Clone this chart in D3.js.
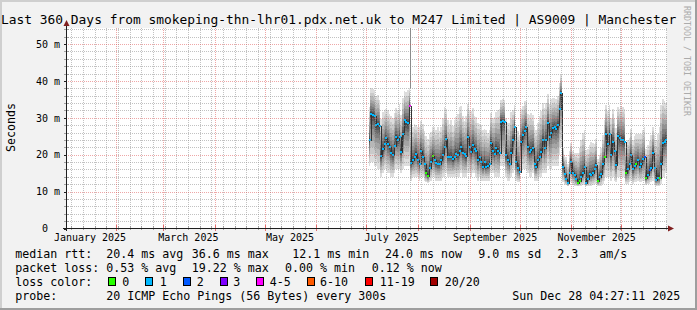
<!DOCTYPE html>
<html><head><meta charset="utf-8">
<script src="https://cdn.jsdelivr.net/npm/d3@7"></script>
<style>
html,body{margin:0;padding:0;background:#f2f2f2;}
svg{display:block;}
text{font-family:"DejaVu Sans Mono",monospace;white-space:pre;}
</style></head><body>
<svg id="c" width="697" height="310"></svg>
<script>
// ---------------- DATA ----------------
const chartTitle = "Last 360 Days from smokeping-thn-lhr01.pdx.net.uk to M247 Limited | AS9009 | Manchester";
const yAxisTitle = "Seconds";
const watermark = "RRDTOOL / TOBI OETIKER";
const rangeStart = "2025-01-02T04:27:11Z";
const rangeEnd = "2025-12-28T04:27:11Z";
const dataStart = "2025-07-03"; // one value per day
// median RTT (ms)
const median = [
 24.0,31.0,30.8,30.4,28.0,28.2,27.7,19.6,21.5,23.0,
 24.4,23.0,22.1,20.5,19.9,22.3,24.7,24.0,24.8,20.8,
 25.5,29.3,28.9,28.5,33.2,17.8,18.6,19.4,20.1,18.5,
 17.4,21.1,19.4,17.5,15.1,14.2,16.5,18.1,19.6,18.5,
 17.8,17.4,17.4,18.5,19.9,22.0,24.3,19.4,19.4,19.4,
 18.7,19.5,20.3,19.9,21.0,22.1,20.5,20.1,19.6,24.8,
 22.0,20.8,22.6,21.5,21.1,18.5,19.4,18.0,16.7,18.1,
 16.7,17.0,17.6,23.2,21.0,20.3,21.7,21.0,20.5,28.9,
 29.0,28.9,19.9,18.5,17.6,20.5,24.0,27.6,18.1,16.5,
 15.4,23.5,25.3,26.5,27.6,22.1,20.8,21.2,21.7,17.6,
 16.7,18.5,19.5,20.8,23.9,21.7,24.0,28.5,24.8,26.0,
 27.3,27.5,27.1,28.0,32.5,36.6,16.7,14.9,13.5,12.4,
 15.0,18.1,15.1,14.5,13.5,12.4,12.9,14.0,15.0,16.7,
 12.2,13.5,14.7,14.5,15.1,16.0,17.2,12.9,14.0,14.7,
 17.4,19.4,25.6,22.9,25.6,19.9,23.5,21.0,17.2,25.0,
 24.4,24.1,24.0,23.5,15.1,16.0,17.6,19.9,16.0,17.0,
 17.6,18.5,16.7,17.5,18.7,19.4,13.6,14.5,15.8,16.3,
 20.5,16.3,13.1,13.6,13.6,17.6,23.2,23.5,24.0
];
// packet loss (%)
const lossPct = [
 0.4,0.5,0.6,0.4,0.5,0.3,0.6,0.5,0.4,0.5,
 0.5,0.4,0.6,0.5,0.3,0.5,0.4,0.6,0.5,0.4,
 0.5,0.6,0.5,0.7,19.22,0.5,0.4,0.5,0.6,0.4,
 0.5,0.3,0.4,0.5,0,0,0.4,0.5,0,0.3,
 0.4,0.5,0.5,0.4,0.6,0.5,0.4,0.5,0.3,0.5,
 0.4,0.5,0.6,0.5,0.4,0.5,0.5,0.4,0.6,0.5,
 0.5,0.4,0.5,0.6,0.4,0.5,0.3,0.5,0.4,0.5,
 0.6,0.5,0.4,0.5,0.5,0.4,0.6,0.5,0.4,0.5,
 0.5,0.6,0.4,0.5,0.3,0.5,0.6,0.4,0.5,0.5,
 0.4,0.5,0.6,0.5,0.4,0.5,0.5,0.4,0.6,0.5,
 0.5,0.4,0.5,0.6,0.5,0.4,0.5,0.5,0.6,0.4,
 0.5,0.6,0.5,0.4,0.7,0.8,0.5,0.4,0.5,0.3,
 0.4,0.5,0.3,0.4,0.3,0,0,0.3,0.4,0.5,
 0.4,0.3,0.5,0.4,0.5,0.4,0.5,0,0.3,0.4,
 0.5,0,0.6,0.5,0.6,0.5,0.4,0.5,0.4,0.6,
 0.5,0.4,0.5,0.6,0,0.3,0.4,0.5,0.4,0.3,
 0,0.4,0.5,0.4,0.5,7.0,0,0.4,7.5,0.5,
 0.4,0.5,0.3,0.4,0,0.5,0.6,0.5,0.12
];
// smoke: upper extent above median (ms)
const smokeUp = [
 9,7,7,7,8,8,7,10,10,9,
 8,9,9,10,10,9,8,8,9,10,
 10,8,8,9,5,10,9,9,8,9,
 10,8,9,9,10,10,9,8,8,9,
 9,10,9,9,10,11,8,10,9,10,
 9,10,10,11,12,11,10,9,11,9,
 10,11,10,9,9,10,9,10,10,9,
 10,9,9,8,9,10,10,11,12,6,
 6,6,10,10,11,11,8,6,9,10,
 10,9,8,8,7,9,10,10,9,10,
 10,10,11,11,10,11,10,8,9,9,
 8,8,8,8,7,5,5,5,6,5,
 6,5,6,6,7,8,9,10,11,10,
 9,8,8,9,8,7,7,6,6,7,
 8,10,8,9,8,10,9,9,10,8,
 8,9,9,9,8,8,7,7,8,8,
 8,7,9,8,8,8,8,8,8,9,
 7,9,11,12,14,16,12,11,10
];
// smoke: lowest ping (ms)
const smokeLow = [
 17,18,18,17,17,16,16,14,15,16,
 16,15,15,14,14,15,16,16,16,15,
 16,17,17,17,17,13,14,14,14,14,
 13,14,14,13,12.5,12.3,12.5,13,14,14,
 13,13,13,13,14,14,15,14,14,14,
 14,14,14,14,14,15,14,14,14,15,
 15,14,15,15,14,13,14,13,13,13,
 13,13,13,15,15,14,14,14,14,17,
 17,17,14,13,13,14,15,16,13,12.5,
 12.5,15,16,16,16,15,14,14,15,13,
 13,13,14,14,15,15,15,17,16,16,
 17,17,17,17,20,22,12.5,12,11.8,11.5,
 11.8,12.5,11.8,11.6,11.5,11.5,11.5,11.6,11.8,12,
 11.5,11.5,11.6,11.6,11.8,12,12,11.5,11.5,11.6,
 12,13,14,14,14,13,14,13,12.5,14,
 14,14,14,14,12,12,12.5,13,12,12.5,
 12.5,13,12.5,12.5,13,13,11.8,12,12,12.5,
 13,12,11.5,11.5,11.5,12,14,14,15
];
const spikeDates = ["2025-07-27"];
const spikeMax = [54.4];
const yTicks = [0, 10, 20, 30, 40, 50];
const xLabelDates = ["2025-01-16","2025-03-16","2025-05-16","2025-07-16","2025-09-16","2025-11-16"];
const xLabelTexts = ["January 2025","March 2025","May 2025","July 2025","September 2025","November 2025"];
const lossLevels = [0, 1, 2, 3, 5, 10, 19, 20]; // lost pings out of 20
const lossLabels = ["0","1","2","3","4-5","6-10","11-19","20/20"];
const lossColors = ["#26ff00","#00b8ff","#0059ff","#7e00ff","#ff00ff","#ff5a00","#ff0000","#a10000"];
const legendRtt = ["median rtt:","20.4 ms avg","36.6 ms max","12.1 ms min","24.0 ms now","9.0 ms sd","2.3","am/s"];
const legendLoss = ["packet loss:","0.53 % avg","19.22 % max","0.00 % min","0.12 % now"];
const legendLossTitle = "loss color:";
const legendProbe = ["probe:","20 ICMP Echo Pings (56 Bytes) every 300s","Sun Dec 28 04:27:11 2025"];

// ---------------- LAYOUT ----------------
const W = 697, H = 310;
const L = 66.5, R = 666.5, T = 28.5, B = 228.5;
const svg = d3.select("#c");
const x = d3.scaleUtc().domain([new Date(rangeStart), new Date(rangeEnd)]).range([L, R]);
const y = d3.scaleLinear().domain([0, 54.2]).range([B, T]);

// dotted patterns for grid
const defs = svg.append("defs");
function dotPattern(id, col, horiz) {
  const p = defs.append("pattern").attr("id", id).attr("patternUnits", "userSpaceOnUse")
    .attr("x", 0).attr("y", 0).attr("width", horiz ? 2 : 1).attr("height", horiz ? 1 : 2);
  p.append("rect").attr("x", 0).attr("y", 0).attr("width", 1).attr("height", 1).attr("fill", col);
}
const minorCol = "rgba(143,143,143,0.55)", majorCol = "rgba(222,79,79,0.5)";
dotPattern("hMinor", minorCol, true);
dotPattern("vMinor", minorCol, false);
dotPattern("hMajor", majorCol, true);
dotPattern("vMajor", majorCol, false);

// frame
svg.append("rect").attr("width", W).attr("height", H).attr("fill", "#f2f2f2");
svg.append("rect").attr("x",0).attr("y",0).attr("width",W).attr("height",2).attr("fill","#cfcfcf");
svg.append("rect").attr("x",0).attr("y",0).attr("width",2).attr("height",H).attr("fill","#cfcfcf");
svg.append("rect").attr("x",W-2).attr("y",0).attr("width",2).attr("height",H).attr("fill","#9e9e9e");
svg.append("rect").attr("x",0).attr("y",H-2).attr("width",W).attr("height",2).attr("fill","#9e9e9e");
svg.append("rect").attr("x", 67).attr("y", 28).attr("width", 600).attr("height", 200).attr("fill", "#fff");

// data
const t0 = new Date(dataStart + "T00:00:00Z");
const days = median.map((m, i) => ({
  date: d3.utcDay.offset(t0, i), m, loss: lossPct[i], up: smokeUp[i], lo: smokeLow[i]
}));
const halfDay = 12 * 3600 * 1000;
const gPlot = svg.append("g").attr("shape-rendering", "crispEdges");
const nBands = 10, pw = 1.7;
for (let k = 0; k < nBands; k++) {
  const g = 221 - 19 * k;
  const f = Math.pow(1 - k / nBands, pw);
  gPlot.append("g").selectAll("rect").data(days).join("rect")
    .attr("x", d => Math.round(x(new Date(+d.date - halfDay))))
    .attr("width", d => Math.max(1, Math.round(x(new Date(+d.date + halfDay))) - Math.round(x(new Date(+d.date - halfDay)))))
    .attr("y", d => y(d.m + d.up * f))
    .attr("height", d => Math.max(1, y(d.m - (d.m - d.lo) * f) - y(d.m + d.up * f)))
    .attr("fill", d3.rgb(g, g, g));
}
// spikes
gPlot.append("g").selectAll("line").data(spikeDates.map((s, i) => ({date: new Date(s + "T00:00:00Z"), max: spikeMax[i], idx: d3.utcDay.count(t0, new Date(s + "T00:00:00Z"))})))
  .join("line")
  .attr("x1", d => Math.round(x(d.date)) + 0.5).attr("x2", d => Math.round(x(d.date)) + 0.5)
  .attr("y1", d => y(d.max)).attr("y2", d => y(median[d.idx] + smokeUp[d.idx]))
  .attr("stroke", "#8a8a8a").attr("stroke-width", 1);
// median connector
gPlot.append("path").datum(days)
  .attr("d", d3.line().x(d => Math.round(x(d.date)) + 0.5).y(d => Math.round(y(d.m)) + 0.5).curve(d3.curveStep))
  .attr("fill", "none").attr("stroke", "#333").attr("stroke-width", 1);
function lossIdx(p) { const pings = p / 100 * 20; return lossLevels.findIndex(l => pings <= l); }
gPlot.append("g").selectAll("rect").data(days).join("rect")
  .attr("x", d => Math.round(x(d.date)) - 1).attr("y", d => Math.round(y(d.m)) - 1)
  .attr("width", 2).attr("height", 2)
  .attr("fill", d => lossColors[lossIdx(d.loss)]);

// grid (on top), drawn as dotted 1px rects
const gGrid = svg.append("g").attr("shape-rendering", "crispEdges");
const minorY = d3.range(2, 54.2, 2).filter(v => v % 10 !== 0);
const majorY = yTicks.filter(v => v > 0);
const months = d3.utcMonth.range(new Date(rangeStart), new Date(rangeEnd));
const weeks = d3.utcSunday.range(new Date(rangeStart), new Date(rangeEnd)).filter(w => !months.some(m => +m === +w));
function hLines(vals, pat) {
  gGrid.append("g").selectAll("rect").data(vals).join("rect")
    .attr("x", 67).attr("width", 600).attr("y", d => Math.round(y(d))).attr("height", 1)
    .attr("fill", `url(#${pat})`);
}
function vLines(vals, pat) {
  gGrid.append("g").selectAll("rect").data(vals).join("rect")
    .attr("x", d => Math.round(x(d))).attr("width", 1).attr("y", 28).attr("height", 200)
    .attr("fill", `url(#${pat})`);
}
hLines(minorY, "hMinor");
vLines(weeks, "vMinor");
hLines(majorY, "hMajor");
vLines(months, "vMajor");
// ticks
const gTick = svg.append("g").attr("shape-rendering", "crispEdges");
gTick.append("g").selectAll("line").data(weeks).join("line")
  .attr("x1", d => Math.round(x(d)) + 0.5).attr("x2", d => Math.round(x(d)) + 0.5).attr("y1", 226).attr("y2", 230)
  .attr("stroke", "rgba(143,143,143,0.8)");
gTick.append("g").selectAll("line").data(months).join("line")
  .attr("x1", d => Math.round(x(d)) + 0.5).attr("x2", d => Math.round(x(d)) + 0.5).attr("y1", 225).attr("y2", 231)
  .attr("stroke", "rgba(222,79,79,0.8)");
gTick.append("g").selectAll("line").data(minorY).join("line")
  .attr("x1", 64).attr("x2", 69).attr("y1", d => Math.round(y(d)) + 0.5).attr("y2", d => Math.round(y(d)) + 0.5)
  .attr("stroke", "rgba(143,143,143,0.8)");

// axes
const yAxis = d3.axisLeft(y).tickValues(yTicks).tickSizeInner(3).tickSizeOuter(0).tickPadding(3.5)
  .tickFormat(v => v === 0 ? "0  " : v + " m");
const gy = svg.append("g").attr("transform", `translate(${L},0)`).call(yAxis);
gy.select(".domain").remove();
gy.selectAll(".tick line").attr("stroke", "#1f1f1f").attr("shape-rendering", "crispEdges");
gy.selectAll(".tick text").attr("font-family", "DejaVu Sans Mono").attr("font-size", 10).attr("fill", "#000").style("white-space", "pre");

const xAxis = d3.axisBottom(x).tickValues(xLabelDates.map(s => new Date(s + "T00:00:00Z")))
  .tickSize(0).tickPadding(5.4).tickFormat((d, i) => xLabelTexts[i]);
const gx = svg.append("g").attr("transform", `translate(0,${B})`).call(xAxis);
gx.select(".domain").remove();
gx.selectAll(".tick text").attr("font-family", "DejaVu Sans Mono").attr("font-size", 10).attr("fill", "#000");

const axCol = "#1f1f1f", arCol = "#801f1f";
svg.append("line").attr("x1", L).attr("x2", L).attr("y1", B + 2).attr("y2", T - 4).attr("stroke", axCol).attr("shape-rendering","crispEdges");
svg.append("line").attr("x1", L - 4).attr("x2", R + 3).attr("y1", B).attr("y2", B).attr("stroke", axCol).attr("shape-rendering","crispEdges");
svg.append("path").attr("d", `M${L-3},${T-2.5}L${L+3},${T-2.5}L${L},${T-8.5}Z`).attr("fill", arCol);
svg.append("path").attr("d", `M${R+1.5},${B-3}L${R+1.5},${B+3}L${R+7.5},${B}Z`).attr("fill", arCol);

// texts
svg.append("text").attr("x", 1).attr("y", 24).attr("font-size", 12.9).text(chartTitle);
svg.append("text").attr("transform", "translate(15,127.5) rotate(-90)").attr("text-anchor", "middle")
  .attr("font-size", 11.63).text(yAxisTitle);
svg.append("text").attr("transform", "translate(683.5,61) rotate(90)").attr("text-anchor", "middle")
  .attr("font-size", 8.3).attr("fill", "#ababab").text(watermark);

const fs = 11.63;
const row1X = [15.3, 106.3, 191.7, 292.3, 385, 478.3, 557.3, 599.3];
const row2X = [15.3, 106.3, 191.7, 285, 371.7];
const row4X = [15.3, 106.3, 512.3];
const boxX = [108.5, 145.5, 183.5, 220.5, 256.5, 307.5, 365.5, 430.5];
const boxLabelX = [122.3, 159.7, 196.7, 233.3, 269.7, 320, 379.7, 444.7];
const leg = svg.append("g").attr("font-size", fs).attr("fill", "#000");
leg.selectAll(".r1").data(legendRtt).join("text").attr("x", (d, i) => row1X[i]).attr("y", 257.8).text(d => d);
leg.selectAll(".r2").data(legendLoss).join("text").attr("x", (d, i) => row2X[i]).attr("y", 271.8).text(d => d);
leg.append("text").attr("x", 15.3).attr("y", 285.8).text(legendLossTitle);
leg.selectAll(".bx").data(lossColors).join("rect").attr("x", (d, i) => boxX[i]).attr("y", 277.5)
  .attr("width", 7).attr("height", 8).attr("fill", d => d).attr("stroke", "#000").attr("shape-rendering","crispEdges");
leg.selectAll(".bl").data(lossLabels).join("text").attr("x", (d, i) => boxLabelX[i]).attr("y", 285.8).text(d => d);
leg.selectAll(".r4").data(legendProbe).join("text").attr("x", (d, i) => row4X[i]).attr("y", 300).text(d => d);
</script>
</body></html>
